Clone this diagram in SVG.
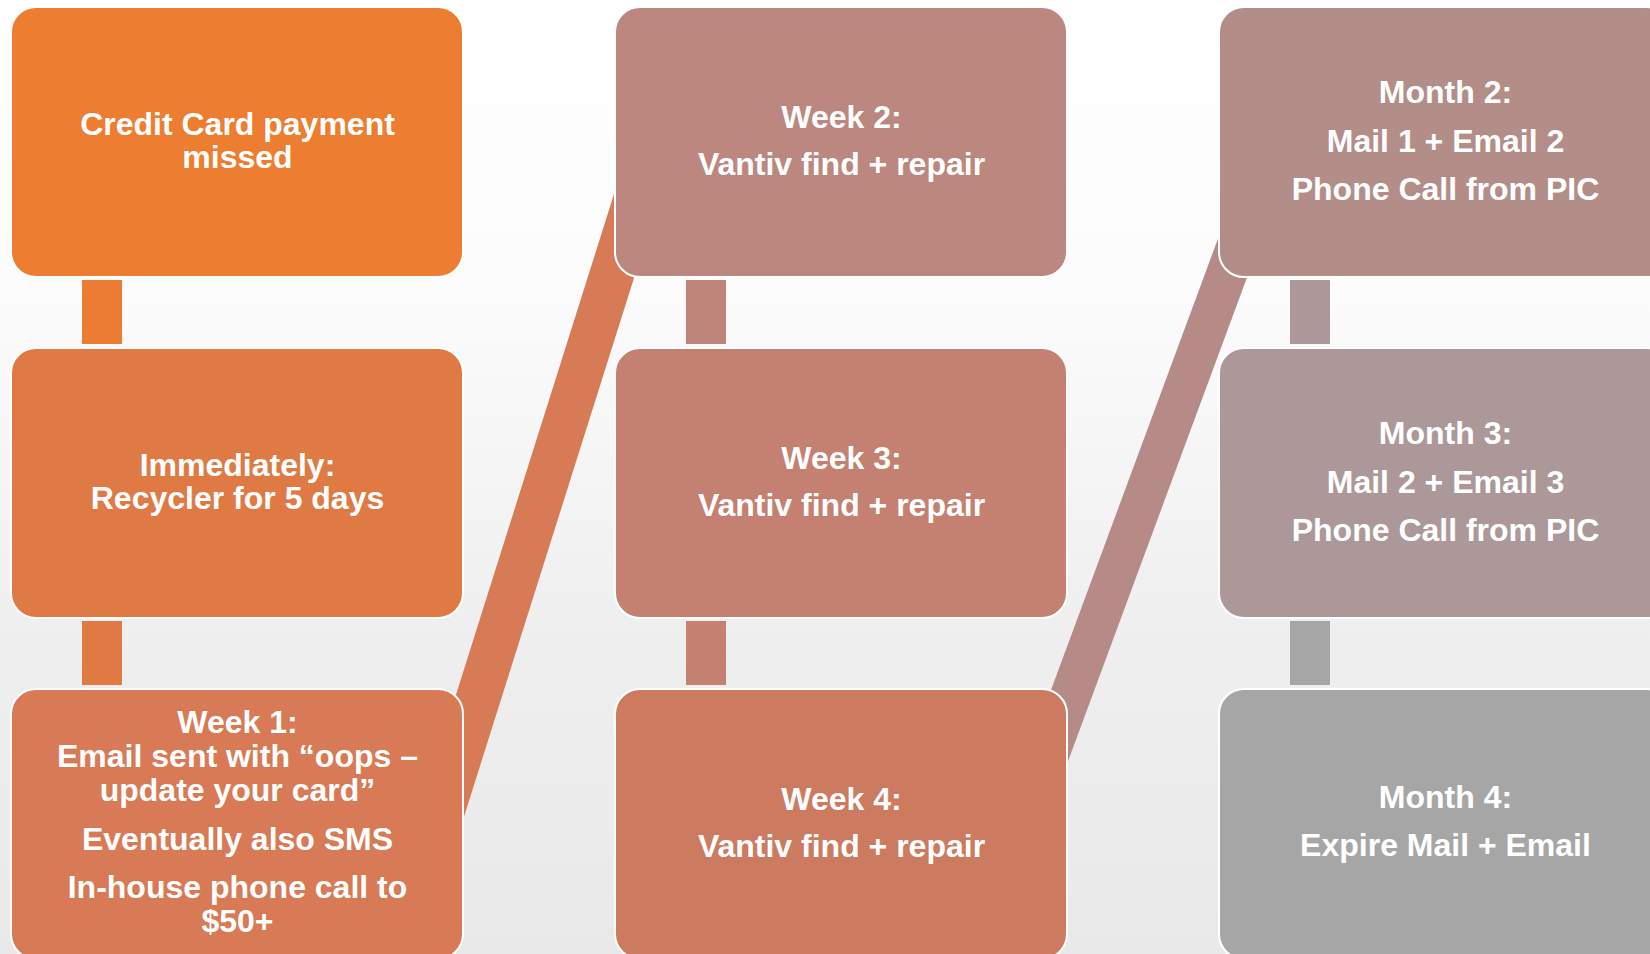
<svg xmlns="http://www.w3.org/2000/svg" width="1650" height="954" viewBox="0 0 1650 954">
  <defs>
    <linearGradient id="bg" x1="0" y1="0" x2="0" y2="1">
      <stop offset="0" stop-color="#ffffff"/>
      <stop offset="0.3" stop-color="#fcfcfc"/>
      <stop offset="0.65" stop-color="#efefef"/>
      <stop offset="1" stop-color="#e9e9e9"/>
    </linearGradient>
    <style>
      .box { stroke: #ffffff; stroke-width: 2; }
      .t { font-family: "Liberation Sans", Arial, sans-serif; font-weight: bold; font-size: 32px; fill: #ffffff; text-anchor: middle; }
    </style>
  </defs>
  <rect x="0" y="0" width="1650" height="954" fill="url(#bg)"/>

  <g id="connectors">
    <polygon points="627.9,150 674.4,150 453.5,850 407,850" fill="#D67B55"/>
    <polygon points="1250.8,150 1294.2,150 1035.2,850 991.8,850" fill="#B68B87"/>
    <rect x="82" y="280" width="40" height="64" fill="#EC7C33"/>
    <rect x="82" y="621" width="40" height="64" fill="#E07A45"/>
    <rect x="686" y="280" width="40" height="64" fill="#BF8479"/>
    <rect x="686" y="621" width="40" height="64" fill="#C68070"/>
    <rect x="1290" y="280" width="40" height="64" fill="#AC9898"/>
    <rect x="1290" y="621" width="40" height="64" fill="#A6A6A6"/>
  </g>

  <g id="n1">
    <rect class="box" x="11" y="7" width="452" height="270" rx="25" fill="#ED7D31"/>
    <text class="t" x="237.5" y="135">Credit Card payment</text>
    <text class="t" x="237.5" y="168">missed</text>
  </g>
  <g id="n2">
    <rect class="box" x="11" y="348" width="452" height="270" rx="25" fill="#E07A45"/>
    <text class="t" x="237.5" y="476">Immediately:</text>
    <text class="t" x="237.5" y="509">Recycler for 5 days</text>
  </g>
  <g id="n3">
    <rect class="box" x="11" y="689" width="452" height="270" rx="25" fill="#D77A55"/>
    <text class="t" x="237.5" y="733">Week 1:</text>
    <text class="t" x="237.5" y="767">Email sent with “oops –</text>
    <text class="t" x="237.5" y="801">update your card”</text>
    <text class="t" x="237.5" y="850">Eventually also SMS</text>
    <text class="t" x="237.5" y="898">In-house phone call to</text>
    <text class="t" x="237.5" y="932">$50+</text>
  </g>

  <g id="n4">
    <rect class="box" x="615" y="7" width="452" height="270" rx="25" fill="#BC877E"/>
    <text class="t" x="841.5" y="128">Week 2:</text>
    <text class="t" x="841.5" y="175">Vantiv find + repair</text>
  </g>
  <g id="n5">
    <rect class="box" x="615" y="348" width="452" height="270" rx="25" fill="#C48070"/>
    <text class="t" x="841.5" y="469">Week 3:</text>
    <text class="t" x="841.5" y="516">Vantiv find + repair</text>
  </g>
  <g id="n6">
    <rect class="box" x="615" y="689" width="452" height="270" rx="25" fill="#CC7B60"/>
    <text class="t" x="841.5" y="810">Week 4:</text>
    <text class="t" x="841.5" y="857">Vantiv find + repair</text>
  </g>

  <g id="n7">
    <rect class="box" x="1219" y="7" width="452" height="270" rx="25" fill="#B38E88"/>
    <text class="t" x="1445.5" y="103">Month 2:</text>
    <text class="t" x="1445.5" y="152">Mail 1 + Email 2</text>
    <text class="t" x="1445.5" y="200">Phone Call from PIC</text>
  </g>
  <g id="n8">
    <rect class="box" x="1219" y="348" width="452" height="270" rx="25" fill="#AC9898"/>
    <text class="t" x="1445.5" y="444">Month 3:</text>
    <text class="t" x="1445.5" y="493">Mail 2 + Email 3</text>
    <text class="t" x="1445.5" y="541">Phone Call from PIC</text>
  </g>
  <g id="n9">
    <rect class="box" x="1219" y="689" width="452" height="270" rx="25" fill="#A6A6A6"/>
    <text class="t" x="1445.5" y="808">Month 4:</text>
    <text class="t" x="1445.5" y="856">Expire Mail + Email</text>
  </g>
</svg>
